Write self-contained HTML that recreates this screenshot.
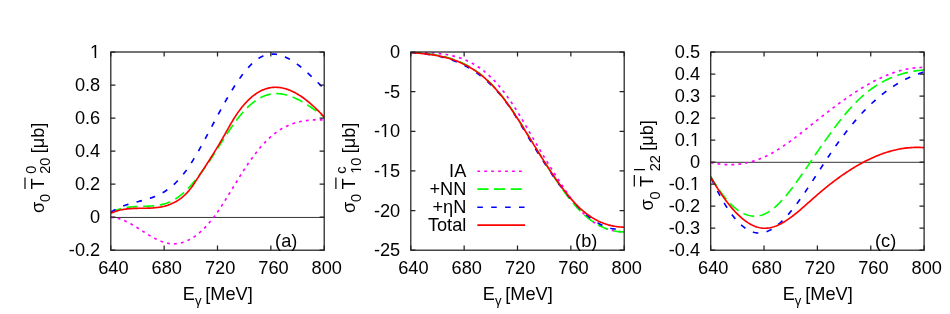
<!DOCTYPE html>
<html><head><meta charset="utf-8"><title>plot</title>
<style>
html,body{margin:0;padding:0;background:#fff;}
body{width:950px;height:314px;overflow:hidden;font-family:"Liberation Sans", sans-serif;}
svg{display:block;will-change:transform;}
svg text{font-family:"Liberation Sans", sans-serif;fill:#000;}
</style></head><body>
<svg width="950" height="314" viewBox="0 0 950 314">

<g id="panel-a">
<line x1="110.80" y1="217.45" x2="324.20" y2="217.45" stroke="#000" stroke-width="0.8"/>
<clipPath id="clip-a"><rect x="110.80" y="52.00" width="213.40" height="198.20"/></clipPath>
<g clip-path="url(#clip-a)" fill="none" stroke-width="1.65" stroke-linejoin="round">
<path d="M110.80,217.42 L111.87,217.44 L112.94,217.51 L114.02,217.62 L115.09,217.77 L116.16,217.97 L117.23,218.20 L118.31,218.48 L119.38,218.78 L120.45,219.13 L121.52,219.50 L122.60,219.91 L123.67,220.34 L124.74,220.81 L125.81,221.30 L126.89,221.81 L127.96,222.35 L129.03,222.90 L130.10,223.48 L131.17,224.08 L132.25,224.69 L133.32,225.31 L134.39,225.95 L135.46,226.60 L136.54,227.26 L137.61,227.93 L138.68,228.61 L139.75,229.29 L140.83,229.97 L141.90,230.65 L142.97,231.34 L144.04,232.02 L145.12,232.70 L146.19,233.37 L147.26,234.04 L148.33,234.69 L149.41,235.34 L150.48,235.98 L151.55,236.60 L152.62,237.21 L153.69,237.80 L154.77,238.38 L155.84,238.93 L156.91,239.46 L157.98,239.97 L159.06,240.46 L160.13,240.91 L161.20,241.34 L162.27,241.74 L163.35,242.11 L164.42,242.45 L165.49,242.75 L166.56,243.02 L167.64,243.24 L168.71,243.43 L169.78,243.58 L170.85,243.70 L171.92,243.77 L173.00,243.81 L174.07,243.81 L175.14,243.77 L176.21,243.69 L177.29,243.58 L178.36,243.43 L179.43,243.24 L180.50,243.01 L181.58,242.74 L182.65,242.44 L183.72,242.10 L184.79,241.72 L185.87,241.30 L186.94,240.85 L188.01,240.35 L189.08,239.82 L190.15,239.25 L191.23,238.65 L192.30,238.00 L193.37,237.32 L194.44,236.60 L195.52,235.84 L196.59,235.04 L197.66,234.21 L198.73,233.34 L199.81,232.43 L200.88,231.48 L201.95,230.50 L203.02,229.47 L204.10,228.41 L205.17,227.31 L206.24,226.18 L207.31,225.00 L208.38,223.79 L209.46,222.54 L210.53,221.26 L211.60,219.93 L212.67,218.57 L213.75,217.17 L214.82,215.73 L215.89,214.25 L216.96,212.74 L218.04,211.20 L219.11,209.63 L220.18,208.04 L221.25,206.41 L222.33,204.76 L223.40,203.10 L224.47,201.41 L225.54,199.70 L226.62,197.99 L227.69,196.25 L228.76,194.51 L229.83,192.76 L230.90,191.01 L231.98,189.25 L233.05,187.48 L234.12,185.72 L235.19,183.96 L236.27,182.21 L237.34,180.46 L238.41,178.72 L239.48,177.00 L240.56,175.28 L241.63,173.58 L242.70,171.90 L243.77,170.24 L244.85,168.60 L245.92,166.98 L246.99,165.38 L248.06,163.80 L249.13,162.25 L250.21,160.72 L251.28,159.21 L252.35,157.73 L253.42,156.27 L254.50,154.84 L255.57,153.43 L256.64,152.05 L257.71,150.70 L258.79,149.38 L259.86,148.09 L260.93,146.82 L262.00,145.59 L263.08,144.39 L264.15,143.22 L265.22,142.08 L266.29,140.98 L267.36,139.91 L268.44,138.87 L269.51,137.87 L270.58,136.90 L271.65,135.97 L272.73,135.07 L273.80,134.20 L274.87,133.37 L275.94,132.56 L277.02,131.79 L278.09,131.05 L279.16,130.34 L280.23,129.65 L281.31,129.00 L282.38,128.37 L283.45,127.77 L284.52,127.20 L285.59,126.66 L286.67,126.14 L287.74,125.64 L288.81,125.17 L289.88,124.73 L290.96,124.31 L292.03,123.91 L293.10,123.53 L294.17,123.18 L295.25,122.85 L296.32,122.54 L297.39,122.25 L298.46,121.98 L299.54,121.72 L300.61,121.49 L301.68,121.27 L302.75,121.08 L303.83,120.89 L304.90,120.73 L305.97,120.58 L307.04,120.45 L308.11,120.33 L309.19,120.22 L310.26,120.13 L311.33,120.05 L312.40,119.99 L313.48,119.93 L314.55,119.89 L315.62,119.85 L316.69,119.83 L317.77,119.82 L318.84,119.82 L319.91,119.82 L320.98,119.83 L322.06,119.85 L323.13,119.88 L324.20,119.91" stroke="#ff00ff" stroke-dasharray="2.78 4.17"/>
<path d="M110.80,212.82 L111.87,212.23 L112.94,211.68 L114.02,211.17 L115.09,210.69 L116.16,210.25 L117.23,209.84 L118.31,209.46 L119.38,209.11 L120.45,208.79 L121.52,208.50 L122.60,208.23 L123.67,207.99 L124.74,207.77 L125.81,207.58 L126.89,207.40 L127.96,207.24 L129.03,207.11 L130.10,206.98 L131.17,206.88 L132.25,206.79 L133.32,206.71 L134.39,206.64 L135.46,206.58 L136.54,206.53 L137.61,206.49 L138.68,206.45 L139.75,206.42 L140.83,206.39 L141.90,206.36 L142.97,206.34 L144.04,206.31 L145.12,206.28 L146.19,206.25 L147.26,206.21 L148.33,206.17 L149.41,206.11 L150.48,206.05 L151.55,205.98 L152.62,205.90 L153.69,205.81 L154.77,205.70 L155.84,205.57 L156.91,205.43 L157.98,205.27 L159.06,205.09 L160.13,204.89 L161.20,204.67 L162.27,204.42 L163.35,204.15 L164.42,203.86 L165.49,203.53 L166.56,203.18 L167.64,202.79 L168.71,202.38 L169.78,201.93 L170.85,201.44 L171.92,200.92 L173.00,200.37 L174.07,199.77 L175.14,199.14 L176.21,198.46 L177.29,197.74 L178.36,196.99 L179.43,196.19 L180.50,195.35 L181.58,194.48 L182.65,193.57 L183.72,192.62 L184.79,191.64 L185.87,190.62 L186.94,189.57 L188.01,188.48 L189.08,187.37 L190.15,186.22 L191.23,185.04 L192.30,183.83 L193.37,182.59 L194.44,181.32 L195.52,180.03 L196.59,178.70 L197.66,177.36 L198.73,175.98 L199.81,174.58 L200.88,173.16 L201.95,171.72 L203.02,170.25 L204.10,168.77 L205.17,167.26 L206.24,165.73 L207.31,164.18 L208.38,162.62 L209.46,161.04 L210.53,159.44 L211.60,157.83 L212.67,156.20 L213.75,154.55 L214.82,152.90 L215.89,151.23 L216.96,149.56 L218.04,147.87 L219.11,146.18 L220.18,144.49 L221.25,142.81 L222.33,141.12 L223.40,139.44 L224.47,137.76 L225.54,136.09 L226.62,134.44 L227.69,132.80 L228.76,131.18 L229.83,129.57 L230.90,127.99 L231.98,126.42 L233.05,124.89 L234.12,123.38 L235.19,121.90 L236.27,120.46 L237.34,119.05 L238.41,117.67 L239.48,116.33 L240.56,115.03 L241.63,113.77 L242.70,112.54 L243.77,111.34 L244.85,110.19 L245.92,109.07 L246.99,107.99 L248.06,106.95 L249.13,105.94 L250.21,104.98 L251.28,104.05 L252.35,103.16 L253.42,102.31 L254.50,101.50 L255.57,100.73 L256.64,100.00 L257.71,99.30 L258.79,98.65 L259.86,98.04 L260.93,97.47 L262.00,96.94 L263.08,96.45 L264.15,96.00 L265.22,95.59 L266.29,95.22 L267.36,94.89 L268.44,94.60 L269.51,94.35 L270.58,94.14 L271.65,93.96 L272.73,93.83 L273.80,93.72 L274.87,93.65 L275.94,93.62 L277.02,93.62 L278.09,93.65 L279.16,93.72 L280.23,93.81 L281.31,93.94 L282.38,94.10 L283.45,94.29 L284.52,94.51 L285.59,94.75 L286.67,95.03 L287.74,95.33 L288.81,95.66 L289.88,96.01 L290.96,96.39 L292.03,96.79 L293.10,97.22 L294.17,97.67 L295.25,98.14 L296.32,98.64 L297.39,99.15 L298.46,99.69 L299.54,100.25 L300.61,100.82 L301.68,101.41 L302.75,102.03 L303.83,102.66 L304.90,103.30 L305.97,103.96 L307.04,104.64 L308.11,105.33 L309.19,106.04 L310.26,106.75 L311.33,107.48 L312.40,108.23 L313.48,108.98 L314.55,109.75 L315.62,110.52 L316.69,111.30 L317.77,112.10 L318.84,112.90 L319.91,113.71 L320.98,114.52 L322.06,115.34 L323.13,116.17 L324.20,117.00" stroke="#00ff00" stroke-dasharray="11.12 5.56"/>
<path d="M110.80,212.21 L111.87,211.53 L112.94,210.87 L114.02,210.25 L115.09,209.66 L116.16,209.09 L117.23,208.56 L118.31,208.04 L119.38,207.55 L120.45,207.09 L121.52,206.65 L122.60,206.22 L123.67,205.82 L124.74,205.43 L125.81,205.06 L126.89,204.71 L127.96,204.37 L129.03,204.04 L130.10,203.73 L131.17,203.42 L132.25,203.12 L133.32,202.83 L134.39,202.55 L135.46,202.27 L136.54,201.99 L137.61,201.71 L138.68,201.44 L139.75,201.17 L140.83,200.89 L141.90,200.61 L142.97,200.33 L144.04,200.04 L145.12,199.74 L146.19,199.44 L147.26,199.12 L148.33,198.80 L149.41,198.46 L150.48,198.11 L151.55,197.74 L152.62,197.36 L153.69,196.96 L154.77,196.54 L155.84,196.10 L156.91,195.63 L157.98,195.15 L159.06,194.64 L160.13,194.11 L161.20,193.55 L162.27,192.96 L163.35,192.34 L164.42,191.70 L165.49,191.02 L166.56,190.30 L167.64,189.55 L168.71,188.77 L169.78,187.95 L170.85,187.10 L171.92,186.20 L173.00,185.27 L174.07,184.30 L175.14,183.30 L176.21,182.25 L177.29,181.16 L178.36,180.03 L179.43,178.86 L180.50,177.65 L181.58,176.39 L182.65,175.09 L183.72,173.75 L184.79,172.36 L185.87,170.93 L186.94,169.45 L188.01,167.93 L189.08,166.36 L190.15,164.75 L191.23,163.09 L192.30,161.40 L193.37,159.68 L194.44,157.92 L195.52,156.13 L196.59,154.30 L197.66,152.45 L198.73,150.58 L199.81,148.68 L200.88,146.76 L201.95,144.81 L203.02,142.86 L204.10,140.88 L205.17,138.89 L206.24,136.90 L207.31,134.89 L208.38,132.87 L209.46,130.85 L210.53,128.83 L211.60,126.80 L212.67,124.78 L213.75,122.76 L214.82,120.74 L215.89,118.73 L216.96,116.73 L218.04,114.74 L219.11,112.75 L220.18,110.78 L221.25,108.83 L222.33,106.88 L223.40,104.96 L224.47,103.05 L225.54,101.15 L226.62,99.28 L227.69,97.43 L228.76,95.59 L229.83,93.79 L230.90,92.00 L231.98,90.24 L233.05,88.51 L234.12,86.81 L235.19,85.13 L236.27,83.49 L237.34,81.88 L238.41,80.30 L239.48,78.75 L240.56,77.24 L241.63,75.77 L242.70,74.34 L243.77,72.94 L244.85,71.59 L245.92,70.28 L246.99,69.01 L248.06,67.78 L249.13,66.60 L250.21,65.47 L251.28,64.39 L252.35,63.35 L253.42,62.37 L254.50,61.44 L255.57,60.56 L256.64,59.73 L257.71,58.97 L258.79,58.26 L259.86,57.60 L260.93,57.01 L262.00,56.47 L263.08,55.99 L264.15,55.56 L265.22,55.19 L266.29,54.88 L267.36,54.61 L268.44,54.40 L269.51,54.24 L270.58,54.12 L271.65,54.06 L272.73,54.04 L273.80,54.07 L274.87,54.14 L275.94,54.26 L277.02,54.42 L278.09,54.62 L279.16,54.87 L280.23,55.15 L281.31,55.47 L282.38,55.84 L283.45,56.23 L284.52,56.67 L285.59,57.14 L286.67,57.64 L287.74,58.18 L288.81,58.75 L289.88,59.35 L290.96,59.98 L292.03,60.64 L293.10,61.33 L294.17,62.04 L295.25,62.78 L296.32,63.54 L297.39,64.33 L298.46,65.14 L299.54,65.98 L300.61,66.83 L301.68,67.70 L302.75,68.59 L303.83,69.50 L304.90,70.43 L305.97,71.37 L307.04,72.33 L308.11,73.30 L309.19,74.28 L310.26,75.28 L311.33,76.28 L312.40,77.30 L313.48,78.32 L314.55,79.35 L315.62,80.39 L316.69,81.43 L317.77,82.48 L318.84,83.53 L319.91,84.58 L320.98,85.63 L322.06,86.69 L323.13,87.74 L324.20,88.79" stroke="#0000ff" stroke-dasharray="5.56 8.34"/>
<path d="M110.80,213.31 L111.87,212.82 L112.94,212.37 L114.02,211.95 L115.09,211.56 L116.16,211.20 L117.23,210.86 L118.31,210.56 L119.38,210.28 L120.45,210.02 L121.52,209.79 L122.60,209.58 L123.67,209.39 L124.74,209.22 L125.81,209.07 L126.89,208.94 L127.96,208.82 L129.03,208.72 L130.10,208.63 L131.17,208.56 L132.25,208.49 L133.32,208.44 L134.39,208.40 L135.46,208.36 L136.54,208.34 L137.61,208.31 L138.68,208.30 L139.75,208.28 L140.83,208.27 L141.90,208.26 L142.97,208.25 L144.04,208.23 L145.12,208.22 L146.19,208.20 L147.26,208.18 L148.33,208.15 L149.41,208.11 L150.48,208.07 L151.55,208.01 L152.62,207.95 L153.69,207.87 L154.77,207.78 L155.84,207.67 L156.91,207.55 L157.98,207.42 L159.06,207.26 L160.13,207.09 L161.20,206.90 L162.27,206.68 L163.35,206.45 L164.42,206.19 L165.49,205.90 L166.56,205.59 L167.64,205.25 L168.71,204.88 L169.78,204.49 L170.85,204.06 L171.92,203.60 L173.00,203.11 L174.07,202.58 L175.14,202.02 L176.21,201.42 L177.29,200.78 L178.36,200.10 L179.43,199.38 L180.50,198.61 L181.58,197.79 L182.65,196.92 L183.72,195.99 L184.79,195.00 L185.87,193.95 L186.94,192.84 L188.01,191.66 L189.08,190.42 L190.15,189.10 L191.23,187.70 L192.30,186.23 L193.37,184.68 L194.44,183.06 L195.52,181.42 L196.59,179.76 L197.66,178.11 L198.73,176.46 L199.81,174.82 L200.88,173.17 L201.95,171.53 L203.02,169.88 L204.10,168.24 L205.17,166.59 L206.24,164.93 L207.31,163.27 L208.38,161.60 L209.46,159.93 L210.53,158.24 L211.60,156.55 L212.67,154.84 L213.75,153.12 L214.82,151.39 L215.89,149.65 L216.96,147.88 L218.04,146.11 L219.11,144.31 L220.18,142.50 L221.25,140.66 L222.33,138.81 L223.40,136.93 L224.47,135.03 L225.54,133.12 L226.62,131.20 L227.69,129.29 L228.76,127.38 L229.83,125.50 L230.90,123.64 L231.98,121.81 L233.05,120.03 L234.12,118.30 L235.19,116.62 L236.27,114.99 L237.34,113.41 L238.41,111.88 L239.48,110.41 L240.56,108.98 L241.63,107.60 L242.70,106.27 L243.77,105.00 L244.85,103.76 L245.92,102.58 L246.99,101.45 L248.06,100.36 L249.13,99.32 L250.21,98.32 L251.28,97.38 L252.35,96.47 L253.42,95.61 L254.50,94.80 L255.57,94.03 L256.64,93.31 L257.71,92.63 L258.79,91.99 L259.86,91.39 L260.93,90.84 L262.00,90.33 L263.08,89.86 L264.15,89.43 L265.22,89.04 L266.29,88.69 L267.36,88.39 L268.44,88.12 L269.51,87.89 L270.58,87.69 L271.65,87.54 L272.73,87.42 L273.80,87.34 L274.87,87.30 L275.94,87.29 L277.02,87.32 L278.09,87.38 L279.16,87.48 L280.23,87.61 L281.31,87.78 L282.38,87.98 L283.45,88.21 L284.52,88.47 L285.59,88.77 L286.67,89.10 L287.74,89.46 L288.81,89.85 L289.88,90.27 L290.96,90.72 L292.03,91.20 L293.10,91.71 L294.17,92.24 L295.25,92.81 L296.32,93.40 L297.39,94.02 L298.46,94.67 L299.54,95.34 L300.61,96.04 L301.68,96.76 L302.75,97.51 L303.83,98.28 L304.90,99.08 L305.97,99.90 L307.04,100.74 L308.11,101.61 L309.19,102.49 L310.26,103.40 L311.33,104.34 L312.40,105.29 L313.48,106.26 L314.55,107.25 L315.62,108.26 L316.69,109.29 L317.77,110.34 L318.84,111.41 L319.91,112.50 L320.98,113.60 L322.06,114.72 L323.13,115.85 L324.20,117.01" stroke="#ff0000"/>
</g>
<path d="M110.80,52.00h4.6 M324.20,52.00h-4.6 M110.80,85.03h4.6 M324.20,85.03h-4.6 M110.80,118.07h4.6 M324.20,118.07h-4.6 M110.80,151.10h4.6 M324.20,151.10h-4.6 M110.80,184.13h4.6 M324.20,184.13h-4.6 M110.80,217.17h4.6 M324.20,217.17h-4.6 M110.80,250.20h4.6 M324.20,250.20h-4.6 M110.80,250.20v-4.6 M110.80,52.00v4.6 M164.15,250.20v-4.6 M164.15,52.00v4.6 M217.50,250.20v-4.6 M217.50,52.00v4.6 M270.85,250.20v-4.6 M270.85,52.00v4.6 M324.20,250.20v-4.6 M324.20,52.00v4.6" stroke="#222" stroke-width="1.25" fill="none"/>
<rect x="110.80" y="52.00" width="213.40" height="198.20" fill="none" stroke="#222" stroke-width="1.25"/>
<text x="100.20" y="58.00" font-size="18.20" text-anchor="end" clip-path="url(#one1)" >1</text>
<text x="100.20" y="91.03" font-size="18.20" text-anchor="end" >0.8</text>
<text x="100.20" y="124.07" font-size="18.20" text-anchor="end" >0.6</text>
<text x="100.20" y="157.10" font-size="18.20" text-anchor="end" >0.4</text>
<text x="100.20" y="190.13" font-size="18.20" text-anchor="end" >0.2</text>
<text x="100.20" y="223.17" font-size="18.20" text-anchor="end" >0</text>
<text x="100.20" y="256.20" font-size="18.20" text-anchor="end" >-0.2</text>
<text x="113.40" y="274.40" font-size="18.20" text-anchor="middle" >640</text>
<text x="166.75" y="274.40" font-size="18.20" text-anchor="middle" >680</text>
<text x="220.10" y="274.40" font-size="18.20" text-anchor="middle" >720</text>
<text x="273.45" y="274.40" font-size="18.20" text-anchor="middle" >760</text>
<text x="326.80" y="274.40" font-size="18.20" text-anchor="middle" >800</text>
<text x="275.10" y="246.50" font-size="18.20" text-anchor="start" >(a)</text>
<text x="182.80" y="300.00" font-size="18.20" text-anchor="start" >E</text>
<text x="194.90" y="305.20" font-size="13.10" text-anchor="start" >&#947;</text>
<text x="205.30" y="300.00" font-size="18.20" text-anchor="start" >[MeV]</text>
</g>
<g id="panel-b">
<clipPath id="clip-b"><rect x="410.80" y="52.00" width="213.40" height="198.20"/></clipPath>
<g clip-path="url(#clip-b)" fill="none" stroke-width="1.65" stroke-linejoin="round">
<path d="M410.80,52.30 L411.87,52.34 L412.95,52.38 L414.02,52.41 L415.09,52.45 L416.16,52.48 L417.24,52.51 L418.31,52.54 L419.38,52.57 L420.46,52.60 L421.53,52.63 L422.60,52.67 L423.67,52.70 L424.75,52.74 L425.82,52.77 L426.89,52.81 L427.97,52.86 L429.04,52.91 L430.11,52.96 L431.18,53.02 L432.26,53.08 L433.33,53.14 L434.40,53.22 L435.48,53.30 L436.55,53.38 L437.62,53.48 L438.69,53.58 L439.77,53.69 L440.84,53.81 L441.91,53.94 L442.99,54.08 L444.06,54.22 L445.13,54.38 L446.20,54.55 L447.28,54.73 L448.35,54.93 L449.42,55.13 L450.50,55.35 L451.57,55.58 L452.64,55.83 L453.71,56.09 L454.79,56.36 L455.86,56.65 L456.93,56.95 L458.01,57.28 L459.08,57.61 L460.15,57.97 L461.22,58.34 L462.30,58.73 L463.37,59.13 L464.44,59.56 L465.52,60.01 L466.59,60.47 L467.66,60.96 L468.73,61.46 L469.81,61.99 L470.88,62.54 L471.95,63.11 L473.03,63.70 L474.10,64.31 L475.17,64.95 L476.24,65.61 L477.32,66.30 L478.39,67.01 L479.46,67.75 L480.54,68.51 L481.61,69.30 L482.68,70.11 L483.75,70.95 L484.83,71.82 L485.90,72.71 L486.97,73.64 L488.05,74.59 L489.12,75.57 L490.19,76.58 L491.26,77.62 L492.34,78.69 L493.41,79.79 L494.48,80.92 L495.56,82.08 L496.63,83.27 L497.70,84.48 L498.77,85.72 L499.85,86.99 L500.92,88.29 L501.99,89.62 L503.07,90.98 L504.14,92.36 L505.21,93.77 L506.28,95.21 L507.36,96.68 L508.43,98.17 L509.50,99.69 L510.58,101.23 L511.65,102.81 L512.72,104.41 L513.79,106.03 L514.87,107.69 L515.94,109.36 L517.01,111.07 L518.09,112.80 L519.16,114.55 L520.23,116.33 L521.31,118.12 L522.38,119.93 L523.45,121.75 L524.52,123.58 L525.60,125.43 L526.67,127.27 L527.74,129.13 L528.82,130.98 L529.89,132.83 L530.96,134.68 L532.03,136.53 L533.11,138.37 L534.18,140.20 L535.25,142.03 L536.33,143.85 L537.40,145.67 L538.47,147.48 L539.54,149.29 L540.62,151.08 L541.69,152.88 L542.76,154.66 L543.84,156.44 L544.91,158.21 L545.98,159.97 L547.05,161.73 L548.13,163.48 L549.20,165.22 L550.27,166.95 L551.35,168.68 L552.42,170.39 L553.49,172.10 L554.56,173.80 L555.64,175.49 L556.71,177.17 L557.78,178.84 L558.86,180.50 L559.93,182.15 L561.00,183.80 L562.07,185.43 L563.15,187.05 L564.22,188.66 L565.29,190.25 L566.37,191.83 L567.44,193.39 L568.51,194.93 L569.58,196.45 L570.66,197.95 L571.73,199.42 L572.80,200.87 L573.88,202.29 L574.95,203.67 L576.02,205.03 L577.09,206.35 L578.17,207.64 L579.24,208.89 L580.31,210.10 L581.39,211.27 L582.46,212.41 L583.53,213.50 L584.60,214.56 L585.68,215.58 L586.75,216.57 L587.82,217.51 L588.90,218.43 L589.97,219.30 L591.04,220.15 L592.11,220.96 L593.19,221.73 L594.26,222.47 L595.33,223.18 L596.41,223.86 L597.48,224.50 L598.55,225.12 L599.62,225.70 L600.70,226.26 L601.77,226.78 L602.84,227.28 L603.92,227.75 L604.99,228.19 L606.06,228.60 L607.13,228.98 L608.21,229.34 L609.28,229.67 L610.35,229.98 L611.43,230.26 L612.50,230.52 L613.57,230.76 L614.64,230.97 L615.72,231.16 L616.79,231.32 L617.86,231.46 L618.94,231.59 L620.01,231.69 L621.08,231.77 L622.15,231.83 L623.23,231.88 L624.30,231.90" stroke="#ff00ff" stroke-dasharray="2.78 4.17"/>
<path d="M410.80,52.39 L411.87,52.46 L412.95,52.52 L414.02,52.59 L415.09,52.66 L416.16,52.74 L417.24,52.81 L418.31,52.89 L419.38,52.98 L420.46,53.06 L421.53,53.15 L422.60,53.25 L423.67,53.35 L424.75,53.45 L425.82,53.57 L426.89,53.68 L427.97,53.81 L429.04,53.93 L430.11,54.07 L431.18,54.21 L432.26,54.37 L433.33,54.52 L434.40,54.69 L435.48,54.87 L436.55,55.05 L437.62,55.24 L438.69,55.45 L439.77,55.66 L440.84,55.88 L441.91,56.11 L442.99,56.36 L444.06,56.61 L445.13,56.88 L446.20,57.16 L447.28,57.45 L448.35,57.75 L449.42,58.07 L450.50,58.39 L451.57,58.74 L452.64,59.09 L453.71,59.46 L454.79,59.85 L455.86,60.24 L456.93,60.66 L458.01,61.09 L459.08,61.53 L460.15,61.99 L461.22,62.47 L462.30,62.97 L463.37,63.48 L464.44,64.01 L465.52,64.55 L466.59,65.12 L467.66,65.70 L468.73,66.30 L469.81,66.92 L470.88,67.56 L471.95,68.22 L473.03,68.90 L474.10,69.60 L475.17,70.32 L476.24,71.06 L477.32,71.83 L478.39,72.61 L479.46,73.42 L480.54,74.25 L481.61,75.10 L482.68,75.98 L483.75,76.87 L484.83,77.80 L485.90,78.74 L486.97,79.71 L488.05,80.71 L489.12,81.73 L490.19,82.77 L491.26,83.84 L492.34,84.94 L493.41,86.06 L494.48,87.21 L495.56,88.38 L496.63,89.58 L497.70,90.80 L498.77,92.05 L499.85,93.33 L500.92,94.63 L501.99,95.96 L503.07,97.31 L504.14,98.69 L505.21,100.10 L506.28,101.53 L507.36,102.99 L508.43,104.47 L509.50,105.98 L510.58,107.52 L511.65,109.08 L512.72,110.67 L513.79,112.27 L514.87,113.90 L515.94,115.55 L517.01,117.22 L518.09,118.90 L519.16,120.60 L520.23,122.31 L521.31,124.03 L522.38,125.76 L523.45,127.51 L524.52,129.26 L525.60,131.02 L526.67,132.78 L527.74,134.55 L528.82,136.31 L529.89,138.09 L530.96,139.86 L532.03,141.63 L533.11,143.41 L534.18,145.18 L535.25,146.95 L536.33,148.72 L537.40,150.49 L538.47,152.25 L539.54,154.01 L540.62,155.77 L541.69,157.52 L542.76,159.26 L543.84,161.00 L544.91,162.73 L545.98,164.45 L547.05,166.16 L548.13,167.86 L549.20,169.56 L550.27,171.24 L551.35,172.91 L552.42,174.57 L553.49,176.21 L554.56,177.84 L555.64,179.46 L556.71,181.06 L557.78,182.64 L558.86,184.21 L559.93,185.76 L561.00,187.30 L562.07,188.81 L563.15,190.31 L564.22,191.78 L565.29,193.24 L566.37,194.67 L567.44,196.08 L568.51,197.47 L569.58,198.84 L570.66,200.18 L571.73,201.50 L572.80,202.79 L573.88,204.05 L574.95,205.29 L576.02,206.50 L577.09,207.68 L578.17,208.84 L579.24,209.96 L580.31,211.05 L581.39,212.12 L582.46,213.15 L583.53,214.15 L584.60,215.12 L585.68,216.07 L586.75,216.98 L587.82,217.86 L588.90,218.72 L589.97,219.54 L591.04,220.34 L592.11,221.11 L593.19,221.85 L594.26,222.56 L595.33,223.24 L596.41,223.90 L597.48,224.53 L598.55,225.13 L599.62,225.71 L600.70,226.25 L601.77,226.77 L602.84,227.27 L603.92,227.74 L604.99,228.18 L606.06,228.59 L607.13,228.98 L608.21,229.35 L609.28,229.69 L610.35,230.00 L611.43,230.29 L612.50,230.55 L613.57,230.80 L614.64,231.01 L615.72,231.20 L616.79,231.37 L617.86,231.51 L618.94,231.63 L620.01,231.73 L621.08,231.81 L622.15,231.86 L623.23,231.89 L624.30,231.89" stroke="#00ff00" stroke-dasharray="11.12 5.56"/>
<path d="M410.80,52.50 L411.87,52.58 L412.95,52.67 L414.02,52.76 L415.09,52.86 L416.16,52.96 L417.24,53.06 L418.31,53.16 L419.38,53.27 L420.46,53.39 L421.53,53.51 L422.60,53.63 L423.67,53.76 L424.75,53.90 L425.82,54.04 L426.89,54.19 L427.97,54.34 L429.04,54.50 L430.11,54.67 L431.18,54.84 L432.26,55.03 L433.33,55.22 L434.40,55.42 L435.48,55.62 L436.55,55.84 L437.62,56.07 L438.69,56.30 L439.77,56.55 L440.84,56.80 L441.91,57.06 L442.99,57.34 L444.06,57.62 L445.13,57.92 L446.20,58.23 L447.28,58.55 L448.35,58.88 L449.42,59.22 L450.50,59.58 L451.57,59.95 L452.64,60.33 L453.71,60.72 L454.79,61.13 L455.86,61.55 L456.93,61.99 L458.01,62.44 L459.08,62.91 L460.15,63.39 L461.22,63.88 L462.30,64.39 L463.37,64.92 L464.44,65.46 L465.52,66.02 L466.59,66.60 L467.66,67.19 L468.73,67.80 L469.81,68.43 L470.88,69.07 L471.95,69.74 L473.03,70.42 L474.10,71.12 L475.17,71.84 L476.24,72.58 L477.32,73.33 L478.39,74.11 L479.46,74.91 L480.54,75.73 L481.61,76.56 L482.68,77.42 L483.75,78.30 L484.83,79.21 L485.90,80.13 L486.97,81.08 L488.05,82.04 L489.12,83.03 L490.19,84.05 L491.26,85.08 L492.34,86.14 L493.41,87.23 L494.48,88.34 L495.56,89.48 L496.63,90.64 L497.70,91.83 L498.77,93.05 L499.85,94.30 L500.92,95.58 L501.99,96.88 L503.07,98.22 L504.14,99.59 L505.21,100.99 L506.28,102.43 L507.36,103.89 L508.43,105.39 L509.50,106.93 L510.58,108.50 L511.65,110.10 L512.72,111.74 L513.79,113.40 L514.87,115.09 L515.94,116.80 L517.01,118.52 L518.09,120.27 L519.16,122.03 L520.23,123.81 L521.31,125.59 L522.38,127.38 L523.45,129.17 L524.52,130.97 L525.60,132.76 L526.67,134.56 L527.74,136.34 L528.82,138.12 L529.89,139.89 L530.96,141.66 L532.03,143.42 L533.11,145.17 L534.18,146.91 L535.25,148.64 L536.33,150.37 L537.40,152.08 L538.47,153.79 L539.54,155.48 L540.62,157.17 L541.69,158.84 L542.76,160.51 L543.84,162.16 L544.91,163.80 L545.98,165.43 L547.05,167.05 L548.13,168.65 L549.20,170.24 L550.27,171.82 L551.35,173.39 L552.42,174.93 L553.49,176.47 L554.56,177.99 L555.64,179.50 L556.71,180.99 L557.78,182.46 L558.86,183.92 L559.93,185.36 L561.00,186.79 L562.07,188.20 L563.15,189.59 L564.22,190.96 L565.29,192.31 L566.37,193.65 L567.44,194.97 L568.51,196.26 L569.58,197.54 L570.66,198.80 L571.73,200.04 L572.80,201.26 L573.88,202.45 L574.95,203.63 L576.02,204.78 L577.09,205.92 L578.17,207.02 L579.24,208.11 L580.31,209.18 L581.39,210.22 L582.46,211.23 L583.53,212.23 L584.60,213.19 L585.68,214.14 L586.75,215.06 L587.82,215.95 L588.90,216.82 L589.97,217.66 L591.04,218.47 L592.11,219.26 L593.19,220.02 L594.26,220.76 L595.33,221.46 L596.41,222.14 L597.48,222.79 L598.55,223.41 L599.62,224.00 L600.70,224.56 L601.77,225.09 L602.84,225.60 L603.92,226.07 L604.99,226.51 L606.06,226.92 L607.13,227.29 L608.21,227.64 L609.28,227.95 L610.35,228.23 L611.43,228.48 L612.50,228.69 L613.57,228.87 L614.64,229.02 L615.72,229.13 L616.79,229.21 L617.86,229.25 L618.94,229.26 L620.01,229.23 L621.08,229.16 L622.15,229.06 L623.23,228.92 L624.30,228.75" stroke="#0000ff" stroke-dasharray="5.56 8.34"/>
<path d="M410.80,52.39 L411.87,52.50 L412.95,52.60 L414.02,52.71 L415.09,52.81 L416.16,52.92 L417.24,53.02 L418.31,53.13 L419.38,53.24 L420.46,53.35 L421.53,53.47 L422.60,53.58 L423.67,53.70 L424.75,53.83 L425.82,53.96 L426.89,54.09 L427.97,54.23 L429.04,54.37 L430.11,54.52 L431.18,54.67 L432.26,54.83 L433.33,55.00 L434.40,55.17 L435.48,55.35 L436.55,55.54 L437.62,55.74 L438.69,55.95 L439.77,56.16 L440.84,56.38 L441.91,56.62 L442.99,56.86 L444.06,57.11 L445.13,57.38 L446.20,57.66 L447.28,57.94 L448.35,58.24 L449.42,58.55 L450.50,58.88 L451.57,59.21 L452.64,59.56 L453.71,59.93 L454.79,60.31 L455.86,60.70 L456.93,61.11 L458.01,61.53 L459.08,61.97 L460.15,62.42 L461.22,62.89 L462.30,63.38 L463.37,63.89 L464.44,64.41 L465.52,64.95 L466.59,65.51 L467.66,66.08 L468.73,66.68 L469.81,67.30 L470.88,67.93 L471.95,68.59 L473.03,69.26 L474.10,69.96 L475.17,70.67 L476.24,71.41 L477.32,72.17 L478.39,72.96 L479.46,73.76 L480.54,74.59 L481.61,75.45 L482.68,76.32 L483.75,77.22 L484.83,78.15 L485.90,79.10 L486.97,80.08 L488.05,81.08 L489.12,82.10 L490.19,83.16 L491.26,84.24 L492.34,85.34 L493.41,86.48 L494.48,87.64 L495.56,88.82 L496.63,90.03 L497.70,91.27 L498.77,92.53 L499.85,93.82 L500.92,95.13 L501.99,96.47 L503.07,97.84 L504.14,99.23 L505.21,100.64 L506.28,102.08 L507.36,103.55 L508.43,105.04 L509.50,106.56 L510.58,108.10 L511.65,109.66 L512.72,111.25 L513.79,112.85 L514.87,114.48 L515.94,116.12 L517.01,117.78 L518.09,119.46 L519.16,121.14 L520.23,122.84 L521.31,124.55 L522.38,126.27 L523.45,128.00 L524.52,129.73 L525.60,131.47 L526.67,133.21 L527.74,134.96 L528.82,136.70 L529.89,138.44 L530.96,140.19 L532.03,141.93 L533.11,143.67 L534.18,145.41 L535.25,147.15 L536.33,148.88 L537.40,150.61 L538.47,152.34 L539.54,154.06 L540.62,155.77 L541.69,157.47 L542.76,159.17 L543.84,160.86 L544.91,162.54 L545.98,164.21 L547.05,165.87 L548.13,167.52 L549.20,169.16 L550.27,170.78 L551.35,172.40 L552.42,173.99 L553.49,175.58 L554.56,177.15 L555.64,178.70 L556.71,180.24 L557.78,181.76 L558.86,183.26 L559.93,184.75 L561.00,186.21 L562.07,187.65 L563.15,189.08 L564.22,190.48 L565.29,191.86 L566.37,193.22 L567.44,194.56 L568.51,195.87 L569.58,197.16 L570.66,198.42 L571.73,199.66 L572.80,200.87 L573.88,202.05 L574.95,203.21 L576.02,204.34 L577.09,205.43 L578.17,206.50 L579.24,207.54 L580.31,208.54 L581.39,209.52 L582.46,210.46 L583.53,211.38 L584.60,212.26 L585.68,213.11 L586.75,213.94 L587.82,214.73 L588.90,215.50 L589.97,216.24 L591.04,216.95 L592.11,217.63 L593.19,218.28 L594.26,218.91 L595.33,219.52 L596.41,220.09 L597.48,220.64 L598.55,221.17 L599.62,221.67 L600.70,222.15 L601.77,222.60 L602.84,223.03 L603.92,223.43 L604.99,223.81 L606.06,224.17 L607.13,224.51 L608.21,224.83 L609.28,225.12 L610.35,225.39 L611.43,225.65 L612.50,225.88 L613.57,226.09 L614.64,226.28 L615.72,226.46 L616.79,226.61 L617.86,226.75 L618.94,226.86 L620.01,226.97 L621.08,227.05 L622.15,227.11 L623.23,227.16 L624.30,227.20" stroke="#ff0000"/>
</g>
<path d="M410.80,52.00h4.6 M624.20,52.00h-4.6 M410.80,91.64h4.6 M624.20,91.64h-4.6 M410.80,131.28h4.6 M624.20,131.28h-4.6 M410.80,170.92h4.6 M624.20,170.92h-4.6 M410.80,210.56h4.6 M624.20,210.56h-4.6 M410.80,250.20h4.6 M624.20,250.20h-4.6 M410.80,250.20v-4.6 M410.80,52.00v4.6 M464.15,250.20v-4.6 M464.15,52.00v4.6 M517.50,250.20v-4.6 M517.50,52.00v4.6 M570.85,250.20v-4.6 M570.85,52.00v4.6 M624.20,250.20v-4.6 M624.20,52.00v4.6" stroke="#222" stroke-width="1.25" fill="none"/>
<rect x="410.80" y="52.00" width="213.40" height="198.20" fill="none" stroke="#222" stroke-width="1.25"/>
<text x="400.20" y="58.00" font-size="18.20" text-anchor="end" >0</text>
<text x="400.20" y="97.64" font-size="18.20" text-anchor="end" >-5</text>
<text x="400.20" y="137.28" font-size="18.20" text-anchor="end" clip-path="url(#one2)" >-10</text>
<text x="400.20" y="176.92" font-size="18.20" text-anchor="end" clip-path="url(#one3)" >-15</text>
<text x="400.20" y="216.56" font-size="18.20" text-anchor="end" >-20</text>
<text x="400.20" y="256.20" font-size="18.20" text-anchor="end" >-25</text>
<text x="413.40" y="274.40" font-size="18.20" text-anchor="middle" >640</text>
<text x="466.75" y="274.40" font-size="18.20" text-anchor="middle" >680</text>
<text x="520.10" y="274.40" font-size="18.20" text-anchor="middle" >720</text>
<text x="573.45" y="274.40" font-size="18.20" text-anchor="middle" >760</text>
<text x="626.80" y="274.40" font-size="18.20" text-anchor="middle" >800</text>
<text x="575.10" y="246.50" font-size="18.20" text-anchor="start" >(b)</text>
<text x="482.80" y="300.00" font-size="18.20" text-anchor="start" >E</text>
<text x="494.90" y="305.20" font-size="13.10" text-anchor="start" >&#947;</text>
<text x="505.30" y="300.00" font-size="18.20" text-anchor="start" >[MeV]</text>
</g>
<g id="panel-c">
<line x1="710.70" y1="162.30" x2="924.10" y2="162.30" stroke="#000" stroke-width="0.8"/>
<clipPath id="clip-c"><rect x="710.70" y="52.00" width="213.40" height="198.20"/></clipPath>
<g clip-path="url(#clip-c)" fill="none" stroke-width="1.65" stroke-linejoin="round">
<path d="M710.70,162.54 L711.77,162.77 L712.85,162.99 L713.92,163.20 L714.99,163.39 L716.06,163.57 L717.14,163.74 L718.21,163.89 L719.28,164.03 L720.36,164.16 L721.43,164.27 L722.50,164.37 L723.57,164.46 L724.65,164.53 L725.72,164.59 L726.79,164.63 L727.87,164.66 L728.94,164.68 L730.01,164.69 L731.08,164.68 L732.16,164.65 L733.23,164.61 L734.30,164.56 L735.38,164.49 L736.45,164.41 L737.52,164.32 L738.59,164.21 L739.67,164.08 L740.74,163.94 L741.81,163.79 L742.89,163.62 L743.96,163.43 L745.03,163.23 L746.10,163.02 L747.18,162.79 L748.25,162.54 L749.32,162.28 L750.40,162.01 L751.47,161.72 L752.54,161.41 L753.61,161.09 L754.69,160.75 L755.76,160.40 L756.83,160.03 L757.91,159.64 L758.98,159.24 L760.05,158.82 L761.12,158.39 L762.20,157.94 L763.27,157.47 L764.34,156.99 L765.42,156.49 L766.49,155.98 L767.56,155.45 L768.63,154.90 L769.71,154.34 L770.78,153.77 L771.85,153.18 L772.93,152.57 L774.00,151.96 L775.07,151.33 L776.14,150.68 L777.22,150.03 L778.29,149.36 L779.36,148.68 L780.44,147.99 L781.51,147.29 L782.58,146.58 L783.65,145.86 L784.73,145.13 L785.80,144.39 L786.87,143.64 L787.95,142.88 L789.02,142.11 L790.09,141.33 L791.16,140.55 L792.24,139.76 L793.31,138.97 L794.38,138.16 L795.46,137.35 L796.53,136.54 L797.60,135.72 L798.67,134.89 L799.75,134.06 L800.82,133.23 L801.89,132.39 L802.97,131.55 L804.04,130.70 L805.11,129.86 L806.18,129.01 L807.26,128.15 L808.33,127.30 L809.40,126.44 L810.48,125.59 L811.55,124.73 L812.62,123.87 L813.69,123.02 L814.77,122.16 L815.84,121.31 L816.91,120.45 L817.99,119.60 L819.06,118.75 L820.13,117.90 L821.21,117.05 L822.28,116.21 L823.35,115.37 L824.42,114.53 L825.50,113.70 L826.57,112.87 L827.64,112.04 L828.72,111.21 L829.79,110.39 L830.86,109.57 L831.93,108.76 L833.01,107.95 L834.08,107.14 L835.15,106.34 L836.23,105.54 L837.30,104.74 L838.37,103.95 L839.44,103.17 L840.52,102.39 L841.59,101.61 L842.66,100.84 L843.74,100.08 L844.81,99.32 L845.88,98.57 L846.95,97.82 L848.03,97.08 L849.10,96.34 L850.17,95.61 L851.25,94.88 L852.32,94.17 L853.39,93.45 L854.46,92.75 L855.54,92.05 L856.61,91.36 L857.68,90.67 L858.76,90.00 L859.83,89.33 L860.90,88.66 L861.97,88.01 L863.05,87.36 L864.12,86.72 L865.19,86.09 L866.27,85.46 L867.34,84.85 L868.41,84.24 L869.48,83.64 L870.56,83.05 L871.63,82.47 L872.70,81.90 L873.78,81.33 L874.85,80.78 L875.92,80.23 L876.99,79.70 L878.07,79.17 L879.14,78.65 L880.21,78.15 L881.29,77.65 L882.36,77.16 L883.43,76.68 L884.50,76.22 L885.58,75.76 L886.65,75.31 L887.72,74.88 L888.80,74.46 L889.87,74.04 L890.94,73.64 L892.01,73.25 L893.09,72.87 L894.16,72.50 L895.23,72.15 L896.31,71.80 L897.38,71.47 L898.45,71.15 L899.52,70.84 L900.60,70.55 L901.67,70.26 L902.74,69.99 L903.82,69.74 L904.89,69.49 L905.96,69.26 L907.03,69.04 L908.11,68.83 L909.18,68.64 L910.25,68.46 L911.33,68.30 L912.40,68.15 L913.47,68.01 L914.54,67.89 L915.62,67.78 L916.69,67.69 L917.76,67.61 L918.84,67.54 L919.91,67.49 L920.98,67.46 L922.05,67.44 L923.13,67.43 L924.20,67.44" stroke="#ff00ff" stroke-dasharray="2.78 4.17"/>
<path d="M710.70,176.44 L711.77,178.29 L712.85,180.10 L713.92,181.87 L714.99,183.59 L716.06,185.28 L717.14,186.92 L718.21,188.52 L719.28,190.08 L720.36,191.60 L721.43,193.07 L722.50,194.50 L723.57,195.89 L724.65,197.23 L725.72,198.53 L726.79,199.78 L727.87,200.99 L728.94,202.16 L730.01,203.28 L731.08,204.36 L732.16,205.39 L733.23,206.38 L734.30,207.32 L735.38,208.21 L736.45,209.06 L737.52,209.86 L738.59,210.62 L739.67,211.33 L740.74,211.99 L741.81,212.60 L742.89,213.17 L743.96,213.69 L745.03,214.16 L746.10,214.58 L747.18,214.95 L748.25,215.28 L749.32,215.55 L750.40,215.78 L751.47,215.95 L752.54,216.08 L753.61,216.16 L754.69,216.18 L755.76,216.16 L756.83,216.08 L757.91,215.96 L758.98,215.78 L760.05,215.55 L761.12,215.27 L762.20,214.94 L763.27,214.55 L764.34,214.12 L765.42,213.63 L766.49,213.08 L767.56,212.49 L768.63,211.85 L769.71,211.16 L770.78,210.43 L771.85,209.65 L772.93,208.83 L774.00,207.96 L775.07,207.05 L776.14,206.10 L777.22,205.12 L778.29,204.09 L779.36,203.03 L780.44,201.93 L781.51,200.80 L782.58,199.64 L783.65,198.44 L784.73,197.22 L785.80,195.96 L786.87,194.68 L787.95,193.37 L789.02,192.04 L790.09,190.68 L791.16,189.30 L792.24,187.90 L793.31,186.48 L794.38,185.03 L795.46,183.57 L796.53,182.10 L797.60,180.60 L798.67,179.10 L799.75,177.58 L800.82,176.05 L801.89,174.51 L802.97,172.96 L804.04,171.40 L805.11,169.84 L806.18,168.26 L807.26,166.69 L808.33,165.11 L809.40,163.53 L810.48,161.95 L811.55,160.38 L812.62,158.80 L813.69,157.22 L814.77,155.65 L815.84,154.08 L816.91,152.51 L817.99,150.95 L819.06,149.39 L820.13,147.84 L821.21,146.29 L822.28,144.75 L823.35,143.22 L824.42,141.69 L825.50,140.17 L826.57,138.65 L827.64,137.15 L828.72,135.65 L829.79,134.17 L830.86,132.69 L831.93,131.23 L833.01,129.78 L834.08,128.33 L835.15,126.90 L836.23,125.48 L837.30,124.08 L838.37,122.69 L839.44,121.31 L840.52,119.95 L841.59,118.60 L842.66,117.27 L843.74,115.96 L844.81,114.66 L845.88,113.38 L846.95,112.11 L848.03,110.87 L849.10,109.64 L850.17,108.43 L851.25,107.24 L852.32,106.08 L853.39,104.93 L854.46,103.80 L855.54,102.70 L856.61,101.61 L857.68,100.55 L858.76,99.52 L859.83,98.50 L860.90,97.51 L861.97,96.54 L863.05,95.59 L864.12,94.67 L865.19,93.76 L866.27,92.88 L867.34,92.02 L868.41,91.17 L869.48,90.35 L870.56,89.55 L871.63,88.77 L872.70,88.01 L873.78,87.26 L874.85,86.54 L875.92,85.84 L876.99,85.15 L878.07,84.48 L879.14,83.83 L880.21,83.20 L881.29,82.59 L882.36,82.00 L883.43,81.42 L884.50,80.86 L885.58,80.31 L886.65,79.78 L887.72,79.27 L888.80,78.78 L889.87,78.30 L890.94,77.83 L892.01,77.39 L893.09,76.95 L894.16,76.53 L895.23,76.13 L896.31,75.74 L897.38,75.37 L898.45,75.01 L899.52,74.66 L900.60,74.32 L901.67,74.00 L902.74,73.70 L903.82,73.40 L904.89,73.12 L905.96,72.85 L907.03,72.59 L908.11,72.34 L909.18,72.11 L910.25,71.89 L911.33,71.67 L912.40,71.47 L913.47,71.28 L914.54,71.10 L915.62,70.93 L916.69,70.77 L917.76,70.62 L918.84,70.48 L919.91,70.35 L920.98,70.22 L922.05,70.11 L923.13,70.00 L924.20,69.90" stroke="#00ff00" stroke-dasharray="11.12 5.56"/>
<path d="M710.70,176.95 L711.77,179.30 L712.85,181.60 L713.92,183.85 L714.99,186.06 L716.06,188.22 L717.14,190.34 L718.21,192.41 L719.28,194.43 L720.36,196.40 L721.43,198.33 L722.50,200.21 L723.57,202.04 L724.65,203.83 L725.72,205.56 L726.79,207.25 L727.87,208.88 L728.94,210.47 L730.01,212.00 L731.08,213.48 L732.16,214.92 L733.23,216.30 L734.30,217.63 L735.38,218.90 L736.45,220.13 L737.52,221.30 L738.59,222.42 L739.67,223.48 L740.74,224.49 L741.81,225.45 L742.89,226.35 L743.96,227.19 L745.03,227.98 L746.10,228.72 L747.18,229.40 L748.25,230.02 L749.32,230.58 L750.40,231.09 L751.47,231.54 L752.54,231.93 L753.61,232.26 L754.69,232.54 L755.76,232.75 L756.83,232.91 L757.91,233.01 L758.98,233.04 L760.05,233.02 L761.12,232.94 L762.20,232.79 L763.27,232.60 L764.34,232.34 L765.42,232.03 L766.49,231.67 L767.56,231.26 L768.63,230.79 L769.71,230.27 L770.78,229.71 L771.85,229.09 L772.93,228.43 L774.00,227.73 L775.07,226.97 L776.14,226.18 L777.22,225.34 L778.29,224.46 L779.36,223.54 L780.44,222.58 L781.51,221.58 L782.58,220.54 L783.65,219.47 L784.73,218.36 L785.80,217.22 L786.87,216.05 L787.95,214.84 L789.02,213.60 L790.09,212.34 L791.16,211.04 L792.24,209.72 L793.31,208.37 L794.38,206.99 L795.46,205.59 L796.53,204.17 L797.60,202.73 L798.67,201.26 L799.75,199.78 L800.82,198.27 L801.89,196.75 L802.97,195.21 L804.04,193.66 L805.11,192.09 L806.18,190.51 L807.26,188.91 L808.33,187.31 L809.40,185.69 L810.48,184.06 L811.55,182.43 L812.62,180.79 L813.69,179.15 L814.77,177.50 L815.84,175.85 L816.91,174.19 L817.99,172.54 L819.06,170.88 L820.13,169.23 L821.21,167.58 L822.28,165.93 L823.35,164.29 L824.42,162.65 L825.50,161.02 L826.57,159.40 L827.64,157.79 L828.72,156.20 L829.79,154.61 L830.86,153.03 L831.93,151.46 L833.01,149.91 L834.08,148.37 L835.15,146.84 L836.23,145.32 L837.30,143.82 L838.37,142.32 L839.44,140.85 L840.52,139.38 L841.59,137.93 L842.66,136.49 L843.74,135.06 L844.81,133.65 L845.88,132.26 L846.95,130.88 L848.03,129.51 L849.10,128.16 L850.17,126.82 L851.25,125.50 L852.32,124.20 L853.39,122.91 L854.46,121.64 L855.54,120.38 L856.61,119.14 L857.68,117.92 L858.76,116.71 L859.83,115.52 L860.90,114.34 L861.97,113.19 L863.05,112.05 L864.12,110.92 L865.19,109.81 L866.27,108.72 L867.34,107.65 L868.41,106.59 L869.48,105.54 L870.56,104.52 L871.63,103.50 L872.70,102.51 L873.78,101.53 L874.85,100.56 L875.92,99.61 L876.99,98.68 L878.07,97.76 L879.14,96.86 L880.21,95.97 L881.29,95.10 L882.36,94.24 L883.43,93.40 L884.50,92.58 L885.58,91.76 L886.65,90.97 L887.72,90.19 L888.80,89.42 L889.87,88.67 L890.94,87.93 L892.01,87.21 L893.09,86.50 L894.16,85.81 L895.23,85.13 L896.31,84.46 L897.38,83.81 L898.45,83.17 L899.52,82.55 L900.60,81.94 L901.67,81.35 L902.74,80.77 L903.82,80.20 L904.89,79.65 L905.96,79.11 L907.03,78.59 L908.11,78.07 L909.18,77.58 L910.25,77.09 L911.33,76.62 L912.40,76.16 L913.47,75.72 L914.54,75.29 L915.62,74.87 L916.69,74.47 L917.76,74.07 L918.84,73.69 L919.91,73.33 L920.98,72.98 L922.05,72.64 L923.13,72.31 L924.20,71.99" stroke="#0000ff" stroke-dasharray="5.56 8.34" stroke-dashoffset="-1.5"/>
<path d="M710.70,176.98 L711.77,178.84 L712.85,180.66 L713.92,182.46 L714.99,184.23 L716.06,185.97 L717.14,187.69 L718.21,189.37 L719.28,191.02 L720.36,192.64 L721.43,194.23 L722.50,195.79 L723.57,197.32 L724.65,198.82 L725.72,200.28 L726.79,201.71 L727.87,203.11 L728.94,204.48 L730.01,205.81 L731.08,207.11 L732.16,208.37 L733.23,209.60 L734.30,210.79 L735.38,211.94 L736.45,213.06 L737.52,214.15 L738.59,215.20 L739.67,216.20 L740.74,217.18 L741.81,218.11 L742.89,219.01 L743.96,219.86 L745.03,220.68 L746.10,221.46 L747.18,222.19 L748.25,222.89 L749.32,223.55 L750.40,224.16 L751.47,224.74 L752.54,225.27 L753.61,225.76 L754.69,226.21 L755.76,226.61 L756.83,226.97 L757.91,227.29 L758.98,227.56 L760.05,227.79 L761.12,227.97 L762.20,228.10 L763.27,228.20 L764.34,228.24 L765.42,228.24 L766.49,228.19 L767.56,228.10 L768.63,227.97 L769.71,227.79 L770.78,227.58 L771.85,227.32 L772.93,227.02 L774.00,226.69 L775.07,226.32 L776.14,225.92 L777.22,225.48 L778.29,225.00 L779.36,224.50 L780.44,223.96 L781.51,223.40 L782.58,222.80 L783.65,222.18 L784.73,221.53 L785.80,220.85 L786.87,220.15 L787.95,219.43 L789.02,218.69 L790.09,217.92 L791.16,217.13 L792.24,216.33 L793.31,215.51 L794.38,214.67 L795.46,213.81 L796.53,212.94 L797.60,212.06 L798.67,211.17 L799.75,210.26 L800.82,209.34 L801.89,208.42 L802.97,207.48 L804.04,206.54 L805.11,205.60 L806.18,204.65 L807.26,203.69 L808.33,202.74 L809.40,201.78 L810.48,200.82 L811.55,199.86 L812.62,198.91 L813.69,197.96 L814.77,197.01 L815.84,196.07 L816.91,195.13 L817.99,194.20 L819.06,193.28 L820.13,192.37 L821.21,191.46 L822.28,190.56 L823.35,189.67 L824.42,188.78 L825.50,187.91 L826.57,187.04 L827.64,186.17 L828.72,185.32 L829.79,184.47 L830.86,183.63 L831.93,182.80 L833.01,181.98 L834.08,181.16 L835.15,180.36 L836.23,179.56 L837.30,178.77 L838.37,177.98 L839.44,177.21 L840.52,176.44 L841.59,175.69 L842.66,174.94 L843.74,174.20 L844.81,173.46 L845.88,172.74 L846.95,172.03 L848.03,171.32 L849.10,170.63 L850.17,169.94 L851.25,169.26 L852.32,168.59 L853.39,167.93 L854.46,167.28 L855.54,166.64 L856.61,166.00 L857.68,165.38 L858.76,164.76 L859.83,164.16 L860.90,163.57 L861.97,162.98 L863.05,162.40 L864.12,161.84 L865.19,161.28 L866.27,160.74 L867.34,160.20 L868.41,159.67 L869.48,159.16 L870.56,158.65 L871.63,158.16 L872.70,157.67 L873.78,157.20 L874.85,156.73 L875.92,156.28 L876.99,155.83 L878.07,155.40 L879.14,154.98 L880.21,154.57 L881.29,154.17 L882.36,153.78 L883.43,153.40 L884.50,153.03 L885.58,152.67 L886.65,152.32 L887.72,151.99 L888.80,151.66 L889.87,151.35 L890.94,151.05 L892.01,150.76 L893.09,150.48 L894.16,150.22 L895.23,149.96 L896.31,149.72 L897.38,149.48 L898.45,149.26 L899.52,149.06 L900.60,148.86 L901.67,148.68 L902.74,148.50 L903.82,148.34 L904.89,148.19 L905.96,148.06 L907.03,147.93 L908.11,147.82 L909.18,147.72 L910.25,147.64 L911.33,147.56 L912.40,147.50 L913.47,147.45 L914.54,147.42 L915.62,147.39 L916.69,147.38 L917.76,147.39 L918.84,147.40 L919.91,147.43 L920.98,147.47 L922.05,147.53 L923.13,147.59 L924.20,147.68" stroke="#ff0000"/>
</g>
<path d="M710.70,52.00h4.6 M924.10,52.00h-4.6 M710.70,74.02h4.6 M924.10,74.02h-4.6 M710.70,96.04h4.6 M924.10,96.04h-4.6 M710.70,118.07h4.6 M924.10,118.07h-4.6 M710.70,140.09h4.6 M924.10,140.09h-4.6 M710.70,162.11h4.6 M924.10,162.11h-4.6 M710.70,184.13h4.6 M924.10,184.13h-4.6 M710.70,206.16h4.6 M924.10,206.16h-4.6 M710.70,228.18h4.6 M924.10,228.18h-4.6 M710.70,250.20h4.6 M924.10,250.20h-4.6 M710.70,250.20v-4.6 M710.70,52.00v4.6 M764.05,250.20v-4.6 M764.05,52.00v4.6 M817.40,250.20v-4.6 M817.40,52.00v4.6 M870.75,250.20v-4.6 M870.75,52.00v4.6 M924.10,250.20v-4.6 M924.10,52.00v4.6" stroke="#222" stroke-width="1.25" fill="none"/>
<rect x="710.70" y="52.00" width="213.40" height="198.20" fill="none" stroke="#222" stroke-width="1.25"/>
<text x="700.10" y="58.00" font-size="18.20" text-anchor="end" >0.5</text>
<text x="700.10" y="80.02" font-size="18.20" text-anchor="end" >0.4</text>
<text x="700.10" y="102.04" font-size="18.20" text-anchor="end" >0.3</text>
<text x="700.10" y="124.07" font-size="18.20" text-anchor="end" >0.2</text>
<text x="700.10" y="146.09" font-size="18.20" text-anchor="end" clip-path="url(#one4)" >0.1</text>
<text x="700.10" y="168.11" font-size="18.20" text-anchor="end" >0</text>
<text x="700.10" y="190.13" font-size="18.20" text-anchor="end" clip-path="url(#one5)" >-0.1</text>
<text x="700.10" y="212.16" font-size="18.20" text-anchor="end" >-0.2</text>
<text x="700.10" y="234.18" font-size="18.20" text-anchor="end" >-0.3</text>
<text x="700.10" y="256.20" font-size="18.20" text-anchor="end" >-0.4</text>
<text x="713.30" y="274.40" font-size="18.20" text-anchor="middle" >640</text>
<text x="766.65" y="274.40" font-size="18.20" text-anchor="middle" >680</text>
<text x="820.00" y="274.40" font-size="18.20" text-anchor="middle" >720</text>
<text x="873.35" y="274.40" font-size="18.20" text-anchor="middle" >760</text>
<text x="926.70" y="274.40" font-size="18.20" text-anchor="middle" >800</text>
<text x="875.00" y="246.50" font-size="18.20" text-anchor="start" >(c)</text>
<text x="782.70" y="300.00" font-size="18.20" text-anchor="start" >E</text>
<text x="794.80" y="305.20" font-size="13.10" text-anchor="start" >&#947;</text>
<text x="805.20" y="300.00" font-size="18.20" text-anchor="start" >[MeV]</text>
</g>
<g transform="translate(44.10,213.00) rotate(-90)">
<text x="0.00" y="0.00" font-size="18.20" text-anchor="start" >&#963;</text>
<text x="10.90" y="6.10" font-size="14.56" text-anchor="start" >0</text>
<text x="23.60" y="0.00" font-size="18.20" text-anchor="start" >T</text>
<line x1="24.0" y1="-19.1" x2="35.6" y2="-19.1" stroke="#000" stroke-width="1.2"/>
<text x="39.20" y="-8.60" font-size="14.56" text-anchor="start" >0</text>
<text x="39.20" y="6.10" font-size="14.56" text-anchor="start" >20</text>
<text x="59.70" y="0.00" font-size="18.20" text-anchor="start" >[&#956;b]</text>
</g>
<g transform="translate(355.00,213.00) rotate(-90)">
<text x="0.00" y="0.00" font-size="18.20" text-anchor="start" >&#963;</text>
<text x="10.90" y="6.10" font-size="14.56" text-anchor="start" >0</text>
<text x="23.60" y="0.00" font-size="18.20" text-anchor="start" >T</text>
<line x1="24.0" y1="-19.1" x2="35.6" y2="-19.1" stroke="#000" stroke-width="1.2"/>
<text x="39.20" y="-8.60" font-size="14.56" text-anchor="start" >c</text>
<text x="39.20" y="6.10" font-size="14.56" text-anchor="start" clip-path="url(#one6)" >10</text>
<text x="59.70" y="0.00" font-size="18.20" text-anchor="start" >[&#956;b]</text>
</g>
<g transform="translate(653.40,210.50) rotate(-90)">
<text x="0.00" y="0.00" font-size="18.20" text-anchor="start" >&#963;</text>
<text x="10.90" y="6.10" font-size="14.56" text-anchor="start" >0</text>
<text x="23.60" y="0.00" font-size="18.20" text-anchor="start" >T</text>
<line x1="24.0" y1="-19.1" x2="35.6" y2="-19.1" stroke="#000" stroke-width="1.2"/>
<text x="39.20" y="-8.60" font-size="14.56" text-anchor="start" >l</text>
<text x="39.20" y="6.10" font-size="14.56" text-anchor="start" >22</text>
<text x="59.70" y="0.00" font-size="18.20" text-anchor="start" >[&#956;b]</text>
</g>
<text x="466.30" y="177.00" font-size="18.20" text-anchor="end" >IA</text>
<line x1="477.3" y1="171.25" x2="525.1" y2="171.25" stroke="#ff00ff" stroke-width="1.65" stroke-dasharray="2.78 4.17"/>
<text x="466.30" y="194.90" font-size="18.20" text-anchor="end" >+NN</text>
<line x1="477.3" y1="189.15" x2="525.1" y2="189.15" stroke="#00ff00" stroke-width="1.65" stroke-dasharray="11.12 5.56"/>
<text x="466.30" y="213.00" font-size="18.20" text-anchor="end" >+&#951;N</text>
<line x1="477.3" y1="207.25" x2="525.1" y2="207.25" stroke="#0000ff" stroke-width="1.65" stroke-dasharray="5.56 8.34"/>
<text x="466.30" y="230.90" font-size="18.20" text-anchor="end" >Total</text>
<line x1="477.3" y1="225.15" x2="525.1" y2="225.15" stroke="#ff0000" stroke-width="1.65"/>
<defs><clipPath id="one1"><path clip-rule="evenodd" d="M85.08,36.16H105.20V67.10H85.08ZM90.46,55.74H94.65V59.00H90.46ZM96.26,55.74H100.31V59.00H96.26Z"/></clipPath><clipPath id="one2"><path clip-rule="evenodd" d="M368.90,115.44H405.20V146.38H368.90ZM380.34,135.02H384.53V138.28H380.34ZM386.14,135.02H390.19V138.28H386.14Z"/></clipPath><clipPath id="one3"><path clip-rule="evenodd" d="M368.90,155.08H405.20V186.02H368.90ZM380.34,174.66H384.53V177.92H380.34ZM386.14,174.66H390.19V177.92H386.14Z"/></clipPath><clipPath id="one4"><path clip-rule="evenodd" d="M669.80,124.25H705.10V155.19H669.80ZM690.36,143.83H694.55V147.09H690.36ZM696.16,143.83H700.21V147.09H696.16Z"/></clipPath><clipPath id="one5"><path clip-rule="evenodd" d="M663.74,168.29H705.10V199.23H663.74ZM690.36,187.87H694.55V191.13H690.36ZM696.16,187.87H700.21V191.13H696.16Z"/></clipPath><clipPath id="one6"><path clip-rule="evenodd" d="M34.20,-11.37H60.40V13.38H34.20ZM39.31,4.11H42.86V7.10H39.31ZM44.15,4.11H47.59V7.10H44.15Z"/></clipPath></defs>
</svg></body></html>
